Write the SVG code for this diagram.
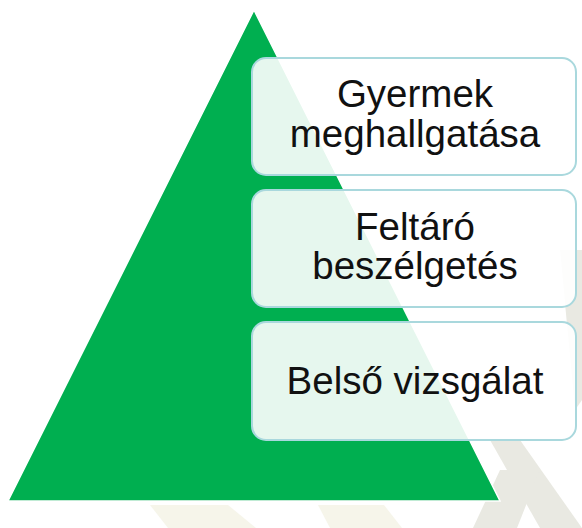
<svg xmlns="http://www.w3.org/2000/svg" width="582" height="528" viewBox="0 0 582 528">
  <style>
    .box { fill: #ffffff; fill-opacity: 0.9; stroke: #a9d8dd; stroke-width: 2; }
    .lbl { font-family: "Liberation Sans", Arial, sans-serif; font-size: 38.5px; fill: #111111; text-anchor: middle; }
    .wm1 { fill: #e9e9e2; }
    .wm2 { fill: #f6f5ea; }
  </style>
  <rect width="582" height="528" fill="#ffffff"/>
  <g id="watermark">
    <polygon class="wm2" points="150,505 228,505 256,528 168,528"/>
    <polygon class="wm2" points="318,505 384,505 402,528 330,528"/>
    <polygon class="wm1" points="490,440 520,440 582,528 540,528"/>
    <polygon class="wm1" points="500,470 540,470 517,528 473,528"/>
    <polygon class="wm1" points="560,250 582,250 582,400 575,410"/>
  </g>
  <g id="pyramid">
    <polygon points="254,10 500,501 8,501" fill="#00af50" stroke="#ffffff" stroke-width="1.5"/>
  </g>
  <g id="node1">
    <rect class="box" x="252" y="58" width="324" height="117" rx="14"/>
    <text class="lbl" x="415" y="107">Gyermek</text>
    <text class="lbl" x="415" y="147">meghallgatása</text>
  </g>
  <g id="node2">
    <rect class="box" x="252" y="190" width="324" height="117" rx="14"/>
    <text class="lbl" x="415" y="240">Feltáró</text>
    <text class="lbl" x="415" y="279">beszélgetés</text>
  </g>
  <g id="node3">
    <rect class="box" x="252" y="322" width="324" height="118" rx="14"/>
    <text class="lbl" x="415" y="394">Belső vizsgálat</text>
  </g>
</svg>
